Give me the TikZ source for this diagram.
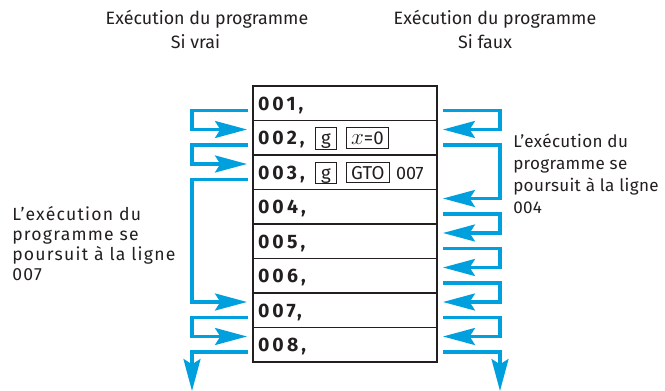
\documentclass[tikz,border=0pt]{standalone}
\usepackage{fontspec}
\setmainfont{Fira Sans}
\newfontfamily\notefont{Fira Sans}[LetterSpace=7]
\newfontfamily\notefontF{Fira Sans}[LetterSpace=2]
\newfontfamily\rowfont{Fira Sans}[LetterSpace=16]
\usepackage{tikz}
\usetikzlibrary{arrows.meta}
\usetikzlibrary{positioning}
\definecolor{progblue}{RGB}{0,160,222}
\definecolor{inkgray}{RGB}{35,31,32}
\tikzstyle{prog_row}=[draw=inkgray, line width=1.4pt, rectangle, outer sep=0pt,
    inner xsep=3.75pt, inner ysep=0pt, text width=130.5pt, align=left,
    minimum height=25.875pt, text height=13.2pt, text depth=2.7pt, text=inkgray,
    font=\rowfont\fontsize{14.6}{16}\selectfont\bfseries]
\tikzstyle{flow}=[draw=progblue, line width=2.3pt,
    -{Stealth[length=24pt, width=12.75pt, inset=4pt]}]
\tikzstyle{title_text}=[inner sep=0pt, anchor=base, text=inkgray,
    font=\fontsize{13.4}{15}\selectfont]
\tikzstyle{note_text}=[inner sep=0pt, anchor=base west, align=left, text=inkgray,
    font=\notefont\fontsize{13.2}{15.2}\selectfont]
\tikzstyle{note_textF}=[note_text, font=\notefontF\fontsize{12.8}{16.5}\selectfont]
% touche de la calculatrice
\newcommand{\calckey}[2]{{\setlength{\fboxsep}{0pt}\setlength{\fboxrule}{0.75pt}%
    \fbox{\rule[-2.25pt]{0pt}{14.5pt}\makebox[#1]{\normalfont\fontsize{14}{15}\selectfont #2}}}}
\newcommand{\varx}{{\fontsize{17}{17}\selectfont$x$}}

\begin{document}
\begin{tikzpicture}[x=0.75pt, y=-0.75pt]
\useasboundingbox (0,0) rectangle (665,391);
\node[title_text] (headT) at (207,25) {Exécution du programme};
\node[title_text] (headTsi) at (195.5,49) {Si vrai};
\node[title_text] (headF) at (495,25) {Exécution du programme};
\node[title_text] (headFsi) at (485,49) {Si faux};
\node[prog_row] (r1) at (345,103.25) {001,};
\node[prog_row, below=0pt of r1] (r2) {\makebox[42.75pt][l]{002,}\calckey{14.8pt}{g}\hspace{6.75pt}\calckey{31pt}{\varx=0}};
\node[prog_row, below=0pt of r2] (r3) {\makebox[42.75pt][l]{003,}\calckey{14.8pt}{g}\hspace{6.75pt}\calckey{31.7pt}{GTO}\hspace{4.5pt}{\normalfont\fontsize{13.5}{15}\selectfont 007}};
\node[prog_row, below=0pt of r3] (r4) {004,};
\node[prog_row, below=0pt of r4] (r5) {005,};
\node[prog_row, below=0pt of r5] (r6) {006,};
\node[prog_row, below=0pt of r6] (r7) {007,};
\node[prog_row, below=0pt of r7] (r8) {008,};
% ancre sur la derniere ligne
\node[note_text] (noteT) at (12,281) {L’exécution du\\programme se\\poursuit à la ligne\\007};
\node[note_textF] (noteF) at (513,214) {L’exécution du\\programme se\\poursuit à la ligne\\004};
\coordinate (endT) at (192,391);
\coordinate (endF) at (500,391);
% si vrai
\draw[flow] ([shift={(-5,-10)}]r1.south west) -- ++(-56,0) |- ([shift={(-6,9)}]r2.north west);
\draw[flow] ([shift={(-5,-10)}]r2.south west) -- ++(-56,0) |- ([shift={(-6,9)}]r3.north west);
\draw[flow] ([shift={(-5,-10)}]r3.south west) -- ++(-56,0) |- ([shift={(-6,9)}]r7.north west);
\draw[flow] ([shift={(-5,-10)}]r7.south west) -- ++(-56,0) |- ([shift={(-6,9)}]r8.north west);
\draw[flow] ([shift={(-5,-10)}]r8.south west) -| (endT);
% si faux
\draw[flow] ([shift={(6,-10)}]r1.south east) -- ++(57,0) |- ([shift={(6,9)}]r2.north east);
\draw[flow] ([shift={(6,-10)}]r2.south east) -- ++(57,0) |- ([shift={(6,9)}]r4.north east);
\draw[flow] ([shift={(6,-10)}]r4.south east) -- ++(57,0) |- ([shift={(6,9)}]r5.north east);
\draw[flow] ([shift={(6,-10)}]r5.south east) -- ++(57,0) |- ([shift={(6,9)}]r6.north east);
\draw[flow] ([shift={(6,-10)}]r6.south east) -- ++(57,0) |- ([shift={(6,9)}]r7.north east);
\draw[flow] ([shift={(6,-10)}]r7.south east) -- ++(57,0) |- ([shift={(6,9)}]r8.north east);
\draw[flow] ([shift={(6,-10)}]r8.south east) -| (endF);
\end{tikzpicture}
\end{document}
